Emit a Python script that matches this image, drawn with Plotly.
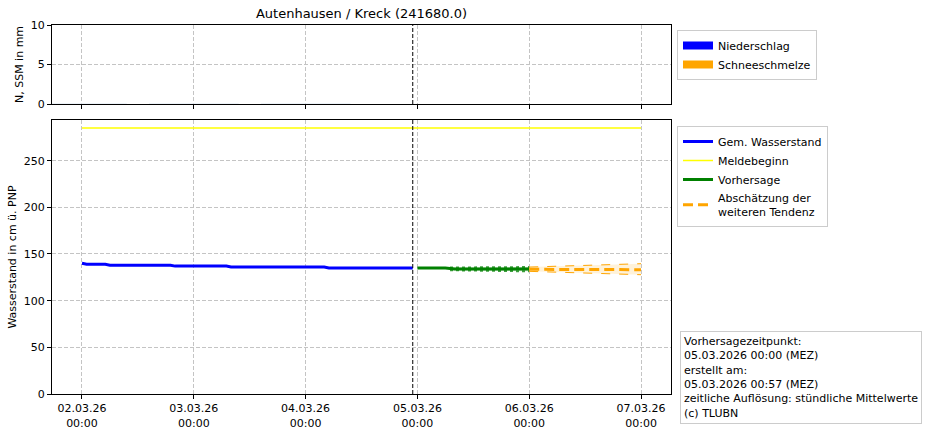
import plotly.graph_objects as go

# ---------------- data ----------------
meas_t = ["2026-03-02 00:00", "2026-03-02 01:00", "2026-03-02 05:00", "2026-03-02 06:00",
          "2026-03-02 19:00", "2026-03-02 20:00", "2026-03-03 07:00", "2026-03-03 08:00",
          "2026-03-04 04:00", "2026-03-04 05:00", "2026-03-04 23:00"]
meas_v = [140, 139, 139, 138, 138, 137, 137, 136, 136, 135, 135]

melde_t = ["2026-03-02 00:00", "2026-03-07 00:00"]
melde_v = [285, 285]

fc_t = ["2026-03-05 00:00", "2026-03-05 06:00", "2026-03-05 08:00", "2026-03-06 00:00"]
fc_v = [135, 135, 134, 133.8]
fc_band_t = ["2026-03-05 07:00", "2026-03-06 00:00"]
fc_upper = [135.5, 136.0]
fc_lower = [132.6, 131.4]

tend_t = ["2026-03-06 00:00", "2026-03-07 00:00"]
tend_v = [133.6, 133.2]
tend_upper = [136.0, 139.6]
tend_lower = [131.4, 127.8]

precip_t = ["2026-03-02 00:00", "2026-03-03 00:00", "2026-03-04 00:00"]
precip_v = [0, 0, 0]
snow_v = [0, 0, 0]

now_line = "2026-03-04 23:00"
tick_vals = ["2026-03-02", "2026-03-03", "2026-03-04", "2026-03-05", "2026-03-06", "2026-03-07"]
tick_text = ["02.03.26<br>00:00", "03.03.26<br>00:00", "04.03.26<br>00:00",
             "05.03.26<br>00:00", "06.03.26<br>00:00", "07.03.26<br>00:00"]
x_range = ["2026-03-01 17:34", "2026-03-07 06:26"]

info_text = ("Vorhersagezeitpunkt:<br>05.03.2026 00:00 (MEZ)<br>erstellt am:<br>"
             "05.03.2026 00:57 (MEZ)<br>zeitliche Auflösung: stündliche Mittelwerte<br>(c) TLUBN")

# ---------------- figure ----------------
FONT = "DejaVu Sans"
fig = go.Figure()

# top panel (precip / snowmelt) - bars drawn from data, legend via proxy entries
fig.add_trace(go.Bar(x=precip_t, y=precip_v, name="Niederschlag", marker_color="#0000ff",
                     xaxis="x", yaxis="y", showlegend=False))
fig.add_trace(go.Bar(x=precip_t, y=snow_v, name="Schneeschmelze", marker_color="#ffa500",
                     xaxis="x", yaxis="y", showlegend=False))
fig.add_trace(go.Scatter(x=[None], y=[None], mode="lines", name="Niederschlag",
                         line=dict(color="#0000ff", width=8), xaxis="x", yaxis="y", legend="legend"))
fig.add_trace(go.Scatter(x=[None], y=[None], mode="lines", name="Schneeschmelze",
                         line=dict(color="#ffa500", width=8), xaxis="x", yaxis="y", legend="legend"))

# bottom panel
fig.add_trace(go.Scatter(x=meas_t, y=meas_v, mode="lines", name="Gem. Wasserstand",
                         line=dict(color="#0000ff", width=3), xaxis="x2", yaxis="y2",
                         legend="legend2"))
fig.add_trace(go.Scatter(x=melde_t, y=melde_v, mode="lines", name="Meldebeginn",
                         line=dict(color="#ffff00", width=1.5), xaxis="x2", yaxis="y2",
                         legend="legend2"))
# forecast band (dotted green edges)
fig.add_trace(go.Scatter(x=fc_band_t, y=fc_upper, mode="lines", showlegend=False,
                         line=dict(color="rgba(0,128,0,0.75)", width=2, dash="dot"),
                         xaxis="x2", yaxis="y2", hoverinfo="skip"))
fig.add_trace(go.Scatter(x=fc_band_t, y=fc_lower, mode="lines", showlegend=False, fill="tonexty",
                         fillcolor="rgba(0,128,0,0.25)",
                         line=dict(color="rgba(0,128,0,0.75)", width=2, dash="dot"),
                         xaxis="x2", yaxis="y2", hoverinfo="skip"))
fig.add_trace(go.Scatter(x=fc_t, y=fc_v, mode="lines", name="Vorhersage",
                         line=dict(color="#008000", width=3), xaxis="x2", yaxis="y2",
                         legend="legend2"))
# tendency band
fig.add_trace(go.Scatter(x=tend_t, y=tend_upper, mode="lines", showlegend=False,
                         line=dict(color="#ffa500", width=1, dash="dash"),
                         xaxis="x2", yaxis="y2", hoverinfo="skip"))
fig.add_trace(go.Scatter(x=tend_t, y=tend_lower, mode="lines", showlegend=False, fill="tonexty",
                         fillcolor="rgba(255,165,0,0.15)",
                         line=dict(color="#ffa500", width=1, dash="dash"),
                         xaxis="x2", yaxis="y2", hoverinfo="skip"))
fig.add_trace(go.Scatter(x=tend_t, y=tend_v, mode="lines",
                         name="Abschätzung der<br>weiteren Tendenz",
                         line=dict(color="#ffa500", width=3, dash="10px,5px"),
                         xaxis="x2", yaxis="y2", legend="legend2"))

axis_common = dict(showline=True, linecolor="black", linewidth=1, mirror=True,
                   ticks="outside", ticklen=4, tickcolor="black", automargin=False,
                   showgrid=True, gridcolor="#c4c4c4", griddash="4px,2px", gridwidth=1,
                   zeroline=False, tickfont=dict(family=FONT, size=11, color="black"))

bottom_dom = [0, (394 - 120) / 369]
top_dom = [(394 - 104) / 369, 1]

fig.update_layout(
    width=929, height=431,
    margin=dict(l=52, r=258, t=25, b=37, autoexpand=False),
    paper_bgcolor="white", plot_bgcolor="white",
    font=dict(family=FONT, size=11, color="black"),
    barmode="overlay",
    title=dict(text="Autenhausen / Kreck (241680.0)", x=(52 + 671) / 2 / 929, xanchor="center",
               y=1 - 13 / 431, yanchor="middle", font=dict(family=FONT, size=13, color="black")),
    xaxis=dict(domain=[0, 1], anchor="y", range=x_range, type="date",
               tickvals=tick_vals, ticktext=tick_text, showticklabels=False, **axis_common),
    yaxis=dict(domain=top_dom, anchor="x", range=[0, 10], tickvals=[0, 5, 10],
               title=dict(text="N, SSM in mm", standoff=4, font=dict(family=FONT, size=11)),
               **axis_common),
    xaxis2=dict(domain=[0, 1], anchor="y2", range=x_range, type="date",
                tickvals=tick_vals, ticktext=tick_text, **axis_common),
    yaxis2=dict(domain=bottom_dom, anchor="x2", range=[0, 293.55],
                tickvals=[0, 50, 100, 150, 200, 250],
                title=dict(text="Wasserstand in cm ü. PNP", standoff=4, font=dict(family=FONT, size=11)),
                **axis_common),
    legend=dict(x=(677 - 52) / 619, y=(394 - 30) / 369, xanchor="left", yanchor="top",
                bgcolor="white", bordercolor="#cccccc", borderwidth=1, traceorder="normal",
                font=dict(family=FONT, size=11), itemwidth=30, tracegroupgap=0),
    legend2=dict(x=(677 - 52) / 619, y=(394 - 126) / 369, xanchor="left", yanchor="top",
                 bgcolor="white", bordercolor="#cccccc", borderwidth=1, traceorder="normal",
                 font=dict(family=FONT, size=11), itemwidth=30, tracegroupgap=0),
    annotations=[dict(text=info_text, xref="paper", yref="paper",
                      x=(680 - 52) / 619, y=(394 - 424) / 369, xanchor="left", yanchor="bottom",
                      align="left", showarrow=False, bgcolor="white", bordercolor="#cccccc",
                      borderwidth=1, borderpad=3, font=dict(family=FONT, size=11, color="black"))],
    shapes=[
        dict(type="line", xref="x", yref="y domain", x0=now_line, x1=now_line, y0=0, y1=1,
             line=dict(color="black", width=1, dash="4px,2px")),
        dict(type="line", xref="x2", yref="y2 domain", x0=now_line, x1=now_line, y0=0, y1=1,
             line=dict(color="black", width=1, dash="4px,2px")),
    ],
)

fig.write_html("out.html", config={"displayModeBar": False},
               post_script="document.body.style.margin='0';document.body.style.padding='0';")
